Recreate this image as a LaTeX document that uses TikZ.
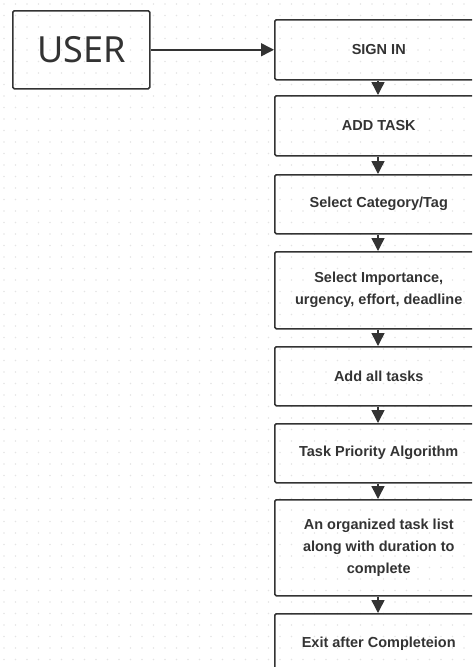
\documentclass[tikz,border=0pt]{standalone}
\usepackage{fontspec}
\setmainfont{Noto Sans}
\newfontfamily\boxfont{Liberation Sans}
\usetikzlibrary{arrows.meta}
\definecolor{ink}{HTML}{333333}
\definecolor{dotgrey}{HTML}{E4E4E4}
\tikzset{
  flowbox/.style={draw=ink, line width=1.5pt, rounded corners=1.5pt, anchor=north west,
    minimum width=208pt, inner sep=0pt, align=center, text=ink,
    font=\boxfont\fontsize{14.5}{22}\selectfont\bfseries},
  userbox/.style={draw=ink, line width=1.5pt, rounded corners=1.5pt, anchor=north west,
    minimum width=137pt, minimum height=78pt, inner sep=0pt, text=ink,
    font=\fontsize{36}{40}\selectfont},
  flowarrow/.style={draw=ink, line width=1.5pt, -{Triangle[width=13pt,length=13pt]}},
}
\begin{document}
\begin{tikzpicture}[x=1pt,y=-1pt]
  \useasboundingbox (0,0) rectangle (472,667);
  \clip (0,0) rectangle (472,667);
  % dotted canvas
  \foreach \i in {0,...,41}{
    \foreach \j in {0,...,58}{
      \fill[dotgrey] (4+\i*11.5, 4+\j*11.5) circle (0.8pt);
    }
  }
  % actor
  \node[userbox] (user) at (12,10) {USER};
  % process steps
  \node[flowbox, minimum height=60pt] (signin) at (274,19) {SIGN IN};
  \node[flowbox, minimum height=60pt] (addtask) at (274,95) {ADD TASK};
  \node[flowbox, minimum height=59pt] (category) at (274,174) {Select Category/Tag};
  \node[flowbox, minimum height=77pt] (attrs) at (274,251) {Select Importance,\\ urgency, effort, deadline};
  \node[flowbox, minimum height=59pt] (addall) at (274,346) {Add all tasks};
  \node[flowbox, minimum height=59pt] (priority) at (274,423) {Task Priority Algorithm};
  \node[flowbox, minimum height=96pt] (organized) at (274,499) {An organized task list\\ along with duration to\\ complete};
  \node[flowbox, minimum height=60pt] (exit) at (274,613) {Exit after Completeion};
  % connectors
  \draw[flowarrow] (user.east) -- (user.east -| signin.west);
  \draw[flowarrow] (signin.south -| 378,0) -- (addtask.north -| 378,0);
  \draw[flowarrow] (addtask.south -| 378,0) -- (category.north -| 378,0);
  \draw[flowarrow] (category.south -| 378,0) -- (attrs.north -| 378,0);
  \draw[flowarrow] (attrs.south -| 378,0) -- (addall.north -| 378,0);
  \draw[flowarrow] (addall.south -| 378,0) -- (priority.north -| 378,0);
  \draw[flowarrow] (priority.south -| 378,0) -- (organized.north -| 378,0);
  \draw[flowarrow] (organized.south -| 378,0) -- (exit.north -| 378,0);
\end{tikzpicture}
\end{document}
